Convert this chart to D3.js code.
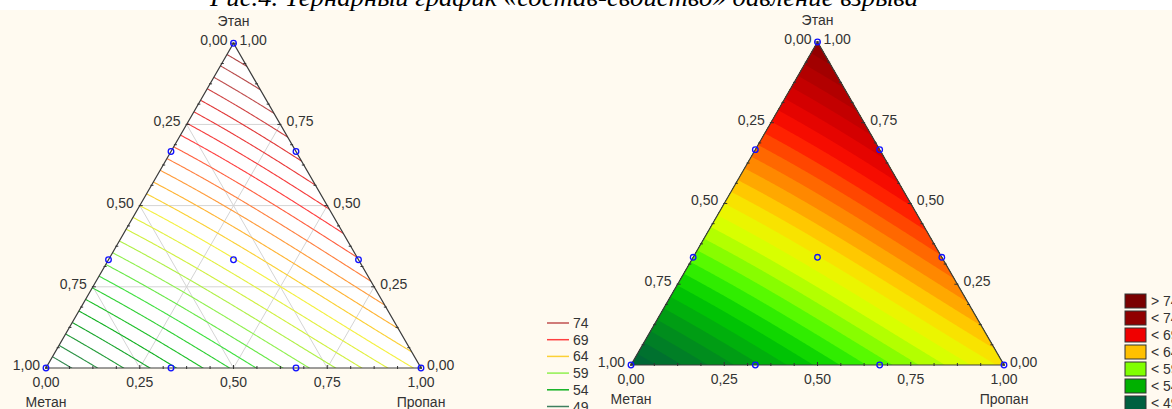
<!DOCTYPE html>
<html>
<head>
<meta charset="utf-8">
<script src="https://cdn.jsdelivr.net/npm/d3@7"></script>
<style>
body { margin: 0; background: #fff; }
svg { display: block; font-family: Arial, "Liberation Sans", sans-serif; }
</style>
</head>
<body>
<script>
const components = ['Метан', 'Этан', 'Пропан'];
// {3,3} simplex lattice design: shares of methane, ethane, propane
const shareMethane = [1, 0, 0, 2/3, 1/3, 0, 0, 1/3, 2/3, 1/3];
const shareEthane  = [0, 1, 0, 1/3, 2/3, 2/3, 1/3, 0, 0, 1/3];
const sharePropane = [0, 0, 1, 0, 0, 1/3, 2/3, 2/3, 1/3, 1/3];
const pressure     = [49, 77, 63.3, 58.4, 67.6, 72.4, 67.9, 58.5, 53.8, 62.9];
const axisTicks = [0, 0.25, 0.5, 0.75, 1];
const lineLegend = [74, 69, 64, 59, 54, 49];
const fillLegend = ['> 74', '< 74', '< 69', '< 64', '< 59', '< 54', '< 49'];
const fillLegendColors = ['#7a0000', '#900000', '#f00000', '#ffc000', '#80ff00', '#00b000', '#006040'];
const levels = d3.range(44, 80);
const title = 'Рис.4. Тернарный график «состав-свойство» давление взрыва';

const lineColor = d3.scaleLinear()
    .domain([49, 54, 57, 59, 61, 63, 64.5, 66.5, 69, 72, 74, 78])
    .range(['#3f7f5f', '#10b020', '#40e040', '#90f050', '#d0f040', '#f4f040', '#ffc030', '#ff9040', '#ff4040', '#e03838', '#c05050', '#a03c3c'])
    .clamp(true);
const fillColor = d3.scaleLinear()
    .domain([47, 50, 53, 56, 58, 60, 61.5, 63, 64.5, 66, 68, 70, 72, 75, 78])
    .range(['#005a40', '#006a34', '#009418', '#00cc00', '#40f800', '#a0ff00', '#d8ff00', '#f4f000', '#ffc800', '#ff9800', '#ff5800', '#ff1000', '#dc0000', '#aa0000', '#7c0000'])
    .clamp(true);

// full cubic Scheffe model through the 10 design points
function basis(m, e, p) {
    return [m, e, p, m * e, m * p, e * p, m * e * (m - e), m * p * (m - p), e * p * (e - p), m * e * p];
}
function solve(A, b) {
    const n = b.length;
    const M = A.map((r, i) => r.concat([b[i]]));
    for (let c = 0; c < n; c++) {
        let piv = c;
        for (let r = c + 1; r < n; r++) if (Math.abs(M[r][c]) > Math.abs(M[piv][c])) piv = r;
        [M[c], M[piv]] = [M[piv], M[c]];
        for (let r = 0; r < n; r++) {
            if (r === c) continue;
            const f = M[r][c] / M[c][c];
            for (let k = c; k <= n; k++) M[r][k] -= f * M[c][k];
        }
    }
    return M.map((r, i) => r[n] / r[i]);
}
const coef = solve(
    pressure.map((_, i) => basis(shareMethane[i], shareEthane[i], sharePropane[i])),
    pressure
);
const model = (m, e, p) => d3.sum(basis(m, e, p), (v, i) => v * coef[i]);

const W = 1172, H = 409;
const svg = d3.select('body').append('svg').attr('width', W).attr('height', H);
svg.append('rect').attr('x', 0).attr('y', 10).attr('width', W).attr('height', H - 10).attr('fill', '#fffaf0');
svg.append('text')
    .attr('x', 210).attr('y', 6)
    .attr('textLength', 708).attr('lengthAdjust', 'spacingAndGlyphs')
    .attr('font-family', '"Liberation Serif", "Times New Roman", serif')
    .attr('font-style', 'italic').attr('font-size', 25).attr('fill', '#000')
    .text(title);

function ternary(id, x0, y0, side, filled) {
    const h = side * Math.sqrt(3) / 2;
    const scX = d3.scaleLinear().domain([0, 1]).range([x0, x0 + side]);
    const scY = d3.scaleLinear().domain([0, 1]).range([y0, y0 - h]);
    const pt = (m, e, p) => [scX(p + e / 2), scY(e)];
    const g = svg.append('g').attr('id', id);
    const corners = [pt(1, 0, 0), pt(0, 0, 1), pt(0, 1, 0)];
    const tri = 'M' + corners.join('L') + 'Z';

    g.append('clipPath').attr('id', id + '-clip').append('path').attr('d', tri);

    // sample the fitted surface on a pixel grid
    const step = 1.5;
    const nx = Math.ceil(side / step) + 3, ny = Math.ceil(h / step) + 3;
    const gx0 = x0 - step, gy0 = y0 - h - step;
    const values = new Array(nx * ny);
    for (let j = 0; j < ny; j++) {
        for (let i = 0; i < nx; i++) {
            const px = gx0 + (i + 0.5) * step, py = gy0 + (j + 0.5) * step;
            const e = scY.invert(py);
            const p = scX.invert(px) - e / 2;
            values[i + j * nx] = model(1 - e - p, e, p);
        }
    }
    const contours = d3.contours().size([nx, ny]).thresholds(levels)(values);
    const path = d3.geoPath(d3.geoTransform({
        point(x, y) { this.stream.point(gx0 + x * step, gy0 + y * step); }
    }));

    const body = g.append('g').attr('clip-path', `url(#${id}-clip)`);
    if (filled) {
        body.append('path').attr('d', tri).attr('fill', fillColor(levels[0]));
        body.selectAll('path.band').data(contours).enter().append('path')
            .attr('class', 'band')
            .attr('d', path)
            .attr('fill', d => fillColor(d.value + 0.5));
    } else {
        body.append('path').attr('d', tri).attr('fill', '#fff');
        const grid = [0.25, 0.5, 0.75];
        const gl = body.append('g').attr('stroke', '#d4d4d4').attr('stroke-width', 1).attr('fill', 'none');
        grid.forEach(v => {
            [[pt(1 - v, v, 0), pt(0, v, 1 - v)],
             [pt(1 - v, 0, v), pt(0, 1 - v, v)],
             [pt(v, 1 - v, 0), pt(v, 0, 1 - v)]].forEach(s => {
                gl.append('path').attr('d', 'M' + s.join('L'));
            });
        });
        body.selectAll('path.iso').data(contours.filter(d => d.value > 44)).enter().append('path')
            .attr('class', 'iso')
            .attr('d', path)
            .attr('fill', 'none')
            .attr('stroke', d => lineColor(d.value))
            .attr('stroke-width', 1.1);
    }

    g.append('path').attr('d', tri).attr('fill', 'none').attr('stroke', '#3c3c3c').attr('stroke-width', 1.2);

    // ticks: major every 0.25, minor every 0.0625
    const ticks = g.append('g').attr('stroke', '#333').attr('stroke-width', 1);
    d3.range(0, 17).forEach(k => {
        const t = k / 16;
        const len = k % 4 === 0 ? 3 : 2;
        const [bx, by] = pt(1 - t, 0, t);
        ticks.append('line').attr('x1', bx).attr('x2', bx).attr('y1', by + 1).attr('y2', by - len);
        const [lx, ly] = pt(t, 1 - t, 0);
        ticks.append('line').attr('x1', lx - 1).attr('x2', lx + len).attr('y1', ly).attr('y2', ly);
        const [rx, ry] = pt(0, t, 1 - t);
        ticks.append('line').attr('x1', rx + 1).attr('x2', rx - len).attr('y1', ry).attr('y2', ry);
    });

    const lab = g.append('g').attr('font-size', 14).attr('fill', '#333');
    const fmt = v => d3.format('.2f')(v).replace('.', ',');
    axisTicks.forEach(t => {
        const [bx, by] = pt(1 - t, 0, t);
        lab.append('text').attr('x', bx).attr('y', by + 19).attr('text-anchor', 'middle').text(fmt(t));
        const [lx, ly] = pt(t, 1 - t, 0);
        lab.append('text').attr('x', lx - 6).attr('y', ly + 2).attr('text-anchor', 'end').text(fmt(t));
        const [rx, ry] = pt(0, t, 1 - t);
        lab.append('text').attr('x', rx + 6).attr('y', ry + 2).attr('text-anchor', 'start').text(fmt(t));
    });
    const [mx, my] = pt(1, 0, 0), [ex, ey] = pt(0, 1, 0), [qx, qy] = pt(0, 0, 1);
    lab.append('text').attr('x', mx).attr('y', my + 39).attr('text-anchor', 'middle').text(components[0]);
    lab.append('text').attr('x', ex).attr('y', ey - 17).attr('text-anchor', 'middle').text(components[1]);
    lab.append('text').attr('x', qx).attr('y', qy + 39).attr('text-anchor', 'middle').text(components[2]);

    g.selectAll('circle').data(pressure).enter().append('circle')
        .attr('cx', (d, i) => pt(shareMethane[i], shareEthane[i], sharePropane[i])[0])
        .attr('cy', (d, i) => pt(shareMethane[i], shareEthane[i], sharePropane[i])[1])
        .attr('r', 2.8)
        .attr('fill', 'none')
        .attr('stroke', '#1010ff')
        .attr('stroke-width', 1.3);
}

ternary('lines', 46, 368, 375, false);
ternary('fill', 631, 365, 373, true);

// legend for contour lines
const lg = svg.append('g').attr('font-size', 14).attr('fill', '#333');
lineLegend.forEach((v, i) => {
    const y = 323 + i * 16.7;
    lg.append('line').attr('x1', 547).attr('x2', 569).attr('y1', y).attr('y2', y)
        .attr('stroke', lineColor(v)).attr('stroke-width', 1.5);
    lg.append('text').attr('x', 573).attr('y', y + 5).text(v);
});

// legend for filled map
const fg = svg.append('g').attr('font-size', 14).attr('fill', '#333');
fillLegend.forEach((s, i) => {
    const y = 294 + i * 17;
    fg.append('rect').attr('x', 1125).attr('y', y).attr('width', 21).attr('height', 14)
        .attr('fill', fillLegendColors[i]).attr('stroke', '#333').attr('stroke-width', 1);
    fg.append('text').attr('x', 1151).attr('y', y + 12).text(s);
});
</script>
</body>
</html>
